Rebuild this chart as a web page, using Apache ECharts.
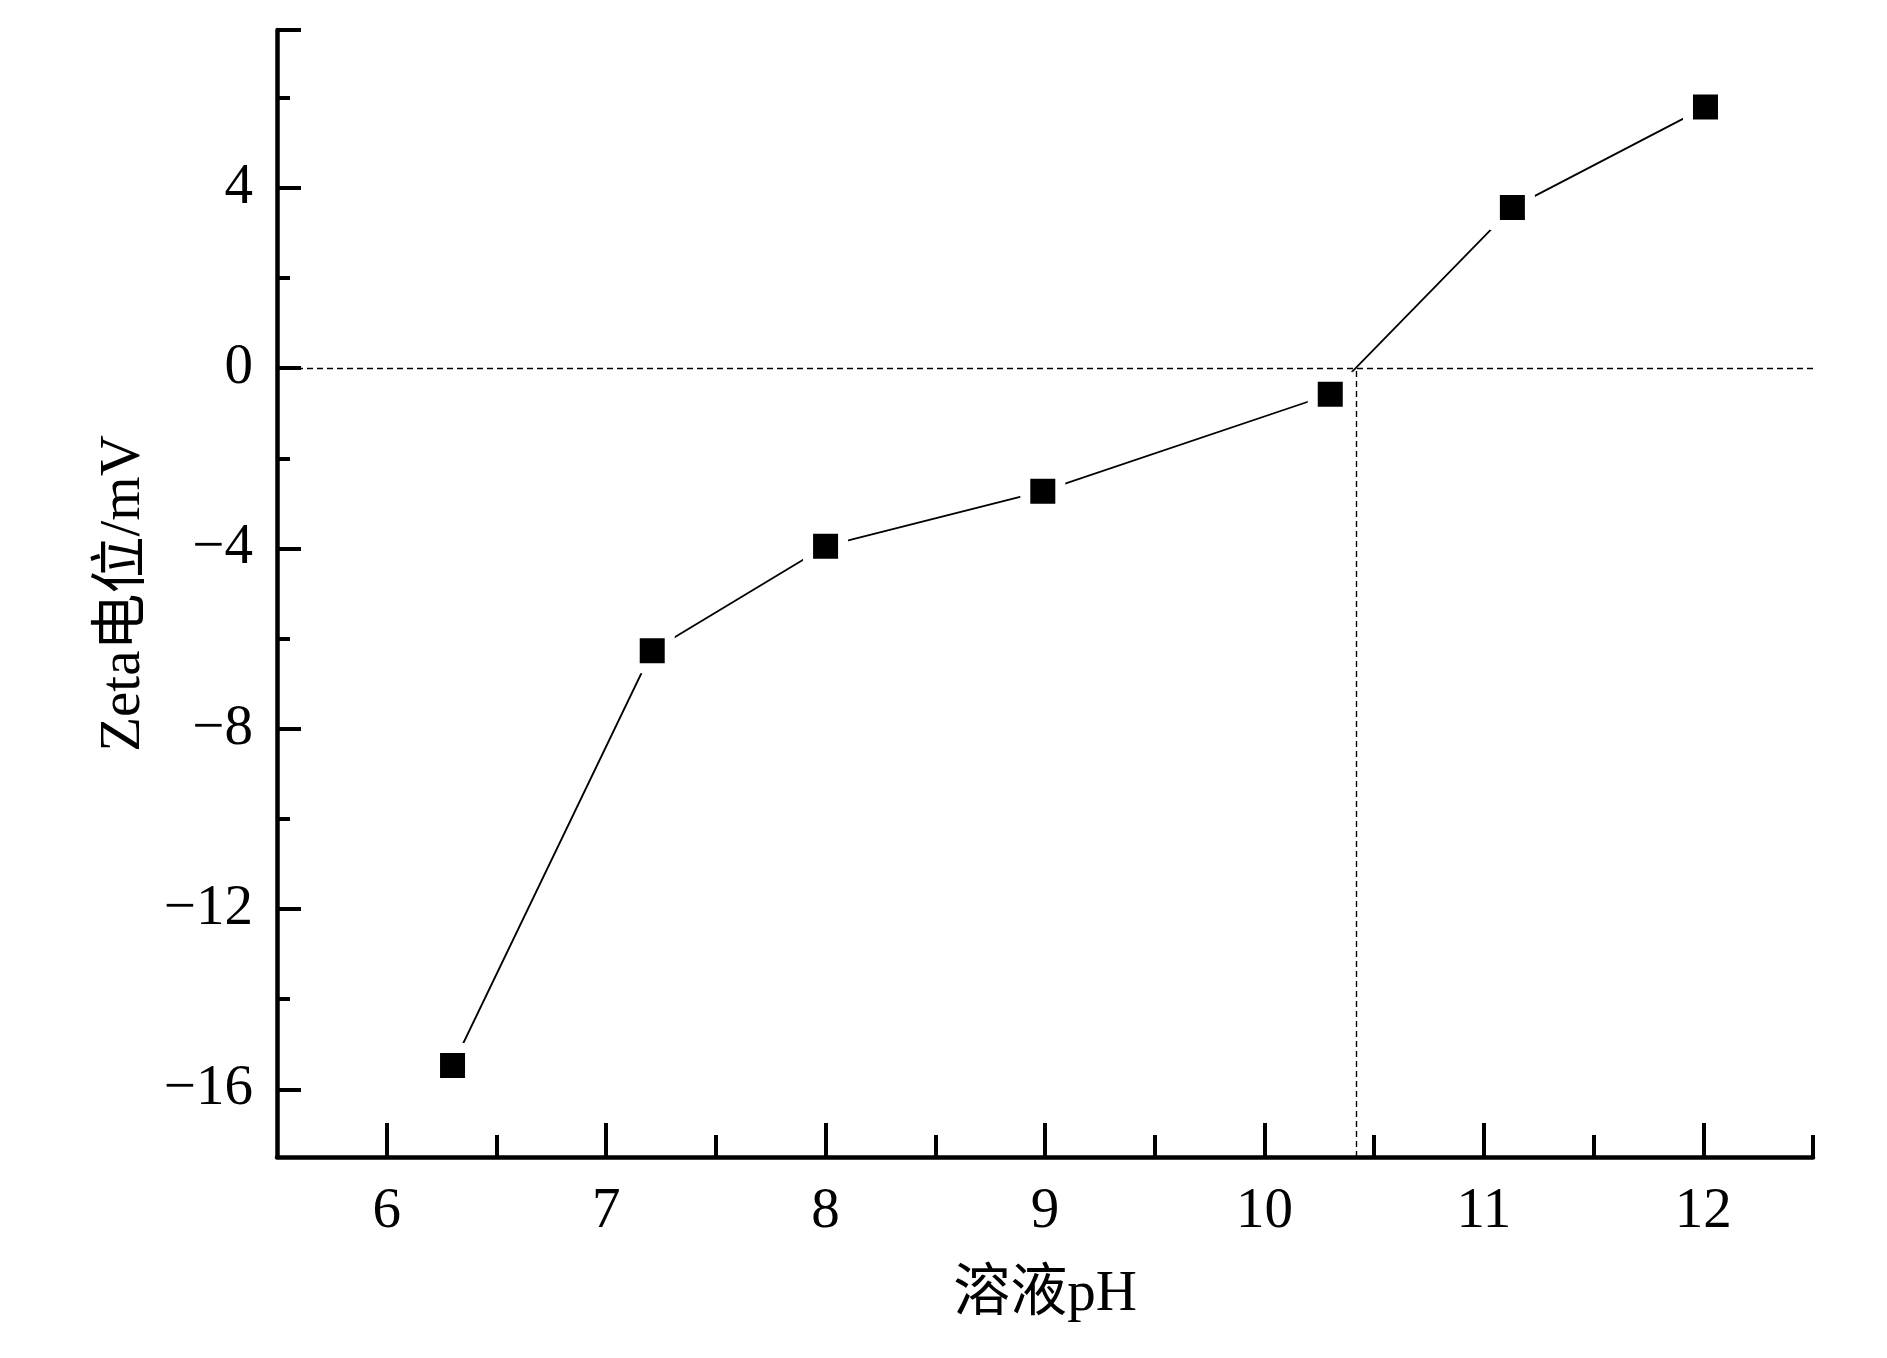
<!DOCTYPE html>
<html>
<head>
<meta charset="utf-8">
<script src="https://cdn.jsdelivr.net/npm/echarts@6/dist/echarts.min.js"></script>
<style>
html,body{margin:0;padding:0;background:#fff;}
#chart{width:1887px;height:1358px;}
</style>
</head>
<body>
<div id="chart"></div>
<script>
// ---- data ----
const phValues = [6.3, 7.21, 8.0, 8.99, 10.3, 11.13, 12.01];
const zetaValues = [-15.47, -6.27, -3.95, -2.73, -0.58, 3.56, 5.79];
const xMajorTicks = [6, 7, 8, 9, 10, 11, 12];
const xMinorTicks = [6.5, 7.5, 8.5, 9.5, 10.5, 11.5, 12.5];
const yMajorTicks = [-16, -12, -8, -4, 0, 4];
const yMinorTicks = [-14, -10, -6, -2, 2, 6];
const xRange = [5.5, 12.5];
const yRange = [-17.5, 7.5];
const zeroLineValue = 0;
const isoelectricPH = 10.42;
const xTitle = '溶液pH';
const yTitle = 'Zeta电位/mV';

// ---- chart ----
const FONT = "'Liberation Serif', 'Times New Roman', 'Noto Sans CJK SC', serif";
const chart = echarts.init(document.getElementById('chart'), null, {renderer: 'canvas'});
const fmt = v => (v < 0 ? '\u2212' + Math.abs(v) : String(v));

const option = {
  animation: false,
  backgroundColor: '#ffffff',
  grid: {left: 277, right: 74, top: 30, bottom: 201, containLabel: false},
  xAxis: [
    {
      type: 'value', min: xRange[0], max: xRange[1], position: 'bottom',
      name: xTitle, nameLocation: 'middle', nameGap: 110,
      nameTextStyle: {fontFamily: FONT, fontSize: 57, color: '#000'},
      axisLine: {show: true, onZero: false, lineStyle: {color: '#000', width: 4.5}},
      axisTick: {show: true, inside: true, length: 34, lineStyle: {color: '#000', width: 4}, customValues: xMajorTicks},
      axisLabel: {show: true, margin: 27, fontFamily: FONT, fontSize: 57, color: '#000', customValues: xMajorTicks, formatter: fmt},
      splitLine: {show: false}
    },
    {
      type: 'value', min: xRange[0], max: xRange[1], position: 'bottom',
      axisLine: {show: false, onZero: false},
      axisTick: {show: true, inside: true, length: 22, lineStyle: {color: '#000', width: 4}, customValues: xMinorTicks},
      axisLabel: {show: false},
      splitLine: {show: false}
    }
  ],
  yAxis: [
    {
      type: 'value', min: yRange[0], max: yRange[1], position: 'left',
      name: yTitle, nameLocation: 'middle', nameGap: 124, nameRotate: 90,
      nameTextStyle: {fontFamily: FONT, fontSize: 57, color: '#000'},
      axisLine: {show: true, onZero: false, lineStyle: {color: '#000', width: 4.5}},
      axisTick: {show: true, inside: true, length: 24, lineStyle: {color: '#000', width: 4}, customValues: yMajorTicks.concat([yRange[1]])},
      axisLabel: {show: true, margin: 24, fontFamily: FONT, fontSize: 57, color: '#000', customValues: yMajorTicks, formatter: fmt},
      splitLine: {show: false}
    },
    {
      type: 'value', min: yRange[0], max: yRange[1], position: 'left',
      axisLine: {show: false, onZero: false},
      axisTick: {show: true, inside: true, length: 13, lineStyle: {color: '#000', width: 4}, customValues: yMinorTicks},
      axisLabel: {show: false},
      splitLine: {show: false}
    }
  ],
  series: [
    {
      type: 'line',
      xAxisIndex: 0, yAxisIndex: 0,
      data: phValues.map((x, i) => [x, zetaValues[i]]),
      symbol: 'rect',
      symbolSize: 35,
      itemStyle: {color: '#000', borderColor: '#fff', borderWidth: 10},
      lineStyle: {color: '#000', width: 1.8},
      z: 3,
      markLine: {
        silent: true,
        symbol: 'none',
        label: {show: false},
        lineStyle: {color: '#000', width: 1.4, type: [6, 4]},
        data: [
          [{coord: [xRange[0], zeroLineValue]}, {coord: [xRange[1], zeroLineValue]}],
          [{coord: [isoelectricPH, yRange[0]]}, {coord: [isoelectricPH, zeroLineValue]}]
        ]
      }
    }
  ]
};
chart.setOption(option);
</script>
</body>
</html>
